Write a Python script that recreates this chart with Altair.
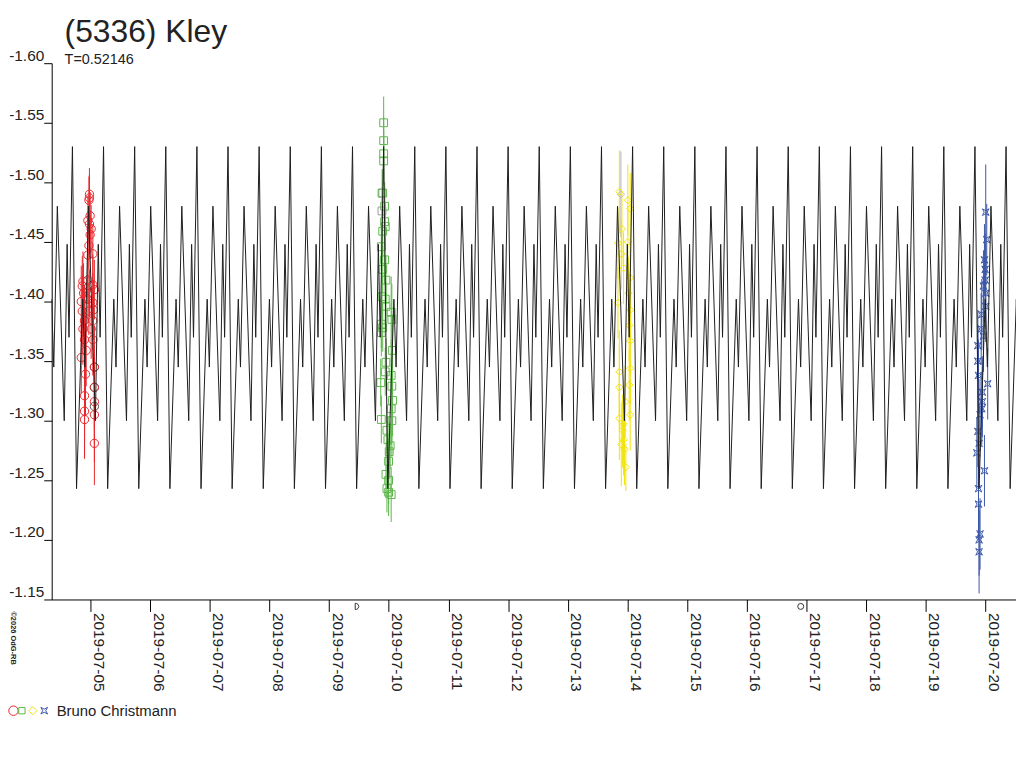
import altair as alt
import pandas as pd

TITLE = "(5336) Kley"
SUBTITLE = "T=0.52146"
OBSERVER = "Bruno Christmann"
COPYRIGHT = "©2026 OdG-RB"

# model light curve: one cycle, repeated with the period
PERIOD_D = 0.52146
EPOCH_D = -0.302          # a main maximum, days from 2019-07-05 00:00
cycle_phase = [0.0, 0.132, 0.330, 0.400, 0.515, 0.737, 0.830, 0.890]
cycle_mag = [-1.530, -1.243, -1.402, -1.345, -1.480, -1.300, -1.448, -1.370]

# observations: time in days from 2019-07-05 00:00, magnitude, error
red_t = [-0.017, -0.017, -0.026, -0.005, -0.043, -0.017, 0.012, -0.005, -0.026, -0.043,
         0.040, -0.126, -0.137, -0.043, 0.040, -0.116, -0.017, 0.066, -0.154, -0.043,
         0.040, -0.137, -0.026, 0.050, -0.099, 0.040, -0.126, 0.012, -0.099, 0.040,
         -0.154, -0.071, -0.083, 0.066, 0.066, -0.099, 0.066, -0.099, 0.066, -0.099, 0.066]
red_mag = [-1.490, -1.487, -1.485, -1.472, -1.468, -1.465, -1.461, -1.456, -1.447, -1.439,
           -1.440, -1.417, -1.413, -1.418, -1.414, -1.407, -1.407, -1.410, -1.400, -1.402,
           -1.399, -1.392, -1.392, -1.393, -1.384, -1.384, -1.377, -1.377, -1.368, -1.368,
           -1.353, -1.359, -1.339, -1.345, -1.328, -1.321, -1.316, -1.308, -1.305, -1.301, -1.281]
red_err = [0.022, 0.02, 0.02, 0.02, 0.02, 0.025, 0.02, 0.02, 0.02, 0.02,
           0.025, 0.025, 0.025, 0.02, 0.025, 0.025, 0.02, 0.025, 0.03, 0.02,
           0.025, 0.03, 0.02, 0.025, 0.03, 0.025, 0.03, 0.025, 0.03, 0.03,
           0.03, 0.03, 0.035, 0.035, 0.035, 0.04, 0.035, 0.04, 0.04, 0.03, 0.035]

green_t = [4.913, 4.913, 4.913, 4.913, 4.897, 4.930, 4.930, 4.940, 4.897, 4.874,
           4.930, 4.897, 4.951, 4.885, 4.940, 4.951, 4.874, 4.897, 4.874, 5.039,
           5.050, 5.062, 4.951, 4.940, 4.864, 5.039, 5.050, 5.062, 5.039, 4.874,
           5.050, 4.968, 4.984, 5.022, 5.006, 4.996, 4.951, 4.996, 4.968, 4.996, 5.039]
green_mag = [-1.550, -1.535, -1.524, -1.518, -1.491, -1.480, -1.467, -1.463, -1.459, -1.446,
             -1.435, -1.427, -1.418, -1.404, -1.402, -1.396, -1.381, -1.378, -1.374, -1.391,
             -1.385, -1.359, -1.349, -1.341, -1.332, -1.338, -1.329, -1.317, -1.310, -1.301,
             -1.300, -1.292, -1.284, -1.279, -1.274, -1.266, -1.255, -1.250, -1.243, -1.240, -1.238]
green_err = [0.022, 0.02, 0.02, 0.02, 0.02, 0.02, 0.02, 0.02, 0.02, 0.02,
             0.02, 0.02, 0.02, 0.02, 0.02, 0.02, 0.02, 0.02, 0.02, 0.03,
             0.03, 0.03, 0.02, 0.02, 0.02, 0.03, 0.03, 0.03, 0.03, 0.02,
             0.03, 0.02, 0.02, 0.02, 0.02, 0.02, 0.02, 0.02, 0.02, 0.02, 0.023]

yellow_t = [8.862, 9.004, 9.044, 8.905, 8.839, 9.004, 8.895, 8.933, 9.044, 9.015,
            8.839, 9.044, 9.027, 9.044, 8.862, 9.044, 8.862, 9.027, 8.961, 8.862,
            9.044, 8.933, 8.916, 8.895, 8.949, 8.971, 8.933]
yellow_mag = [-1.492, -1.485, -1.478, -1.461, -1.449, -1.450, -1.440, -1.428, -1.420, -1.407,
              -1.399, -1.393, -1.380, -1.367, -1.341, -1.344, -1.328, -1.330, -1.316, -1.302,
              -1.305, -1.297, -1.292, -1.280, -1.276, -1.261, -1.284]
yellow_err = [0.035, 0.03, 0.03, 0.03, 0.03, 0.03, 0.03, 0.03, 0.03, 0.03,
              0.03, 0.03, 0.03, 0.03, 0.035, 0.03, 0.035, 0.03, 0.03, 0.035,
              0.03, 0.03, 0.03, 0.035, 0.03, 0.02, 0.03]

blue_t = [15.001, 15.018, 14.991, 14.991, 15.001, 14.935, 14.869, 14.869, 14.880, 15.034,
          14.944, 14.906, 14.869, 14.890, 14.852, 14.980, 14.880, 14.880, 14.906, 14.890,
          14.890, 14.980, 14.963, 15.001, 14.925, 14.963, 14.944, 14.935]
blue_mag = [-1.475, -1.452, -1.427, -1.418, -1.407, -1.389, -1.363, -1.350, -1.338, -1.331,
            -1.324, -1.305, -1.291, -1.281, -1.273, -1.258, -1.243, -1.230, -1.205, -1.200,
            -1.190, -1.435, -1.413, -1.396, -1.377, -1.371, -1.316, -1.310]
blue_err = [0.04, 0.03, 0.03, 0.03, 0.03, 0.03, 0.03, 0.03, 0.03, 0.03,
            0.03, 0.03, 0.03, 0.03, 0.03, 0.03, 0.03, 0.03, 0.03, 0.03,
            0.035, 0.03, 0.03, 0.03, 0.03, 0.03, 0.03, 0.03]

# points drawn in grey (not used in the fit)
faint_group = ["red", "red", "red", "green", "green", "yellow"]
faint_t = [0.066, 0.066, 0.066, 4.885, 4.885, 8.888]
faint_mag = [-1.345, -1.328, -1.312, -1.491, -1.476, -1.490]
faint_err = [0.0, 0.0, 0.0, 0.02, 0.02, 0.036]

# moon phases on the time axis
first_quarter_time = ["2019-07-09T10:55:00"]
full_moon_time = ["2019-07-16T21:38:00"]

# ---------------------------------------------------------------- build tables
BASE = pd.Timestamp("2019-07-05")


def to_time(days):
    return BASE + pd.to_timedelta(pd.Series(days, dtype=float), unit="D")


curve_t, curve_m = [], []
for k in range(-1, 31):
    for ph, m in zip(cycle_phase, cycle_mag):
        curve_t.append(EPOCH_D + (k + ph) * PERIOD_D)
        curve_m.append(m)
curve = pd.DataFrame({"time": to_time(curve_t), "mag": curve_m})

frames = []
for name, t, m, e in [("red", red_t, red_mag, red_err),
                      ("green", green_t, green_mag, green_err),
                      ("yellow", yellow_t, yellow_mag, yellow_err),
                      ("blue", blue_t, blue_mag, blue_err)]:
    frames.append(pd.DataFrame({"group": name, "time": to_time(t), "mag": m, "err": e}))
obs = pd.concat(frames, ignore_index=True)
obs["lo"] = obs["mag"] - obs["err"]
obs["hi"] = obs["mag"] + obs["err"]

faint = pd.DataFrame({"group": faint_group, "time": to_time(faint_t),
                      "mag": faint_mag, "err": faint_err})
faint["lo"] = faint["mag"] - faint["err"]
faint["hi"] = faint["mag"] + faint["err"]

fq = pd.DataFrame({"time": pd.to_datetime(first_quarter_time)})
fm = pd.DataFrame({"time": pd.to_datetime(full_moon_time)})

# ---------------------------------------------------------------- styling
FONT = "Liberation Sans"
W, H = 971, 540
groups = ["red", "green", "yellow", "blue"]
colors = ["#e8282c", "#5db64a", "#f2e40c", "#3b57a7"]
STAR = "M-1,-1L0,-0.45L1,-1L0.45,0L1,1L0,0.45L-1,1L-0.45,0Z"
HALF = "M-0.35,-1L0.15,-0.92L0.55,-0.65L0.8,0L0.55,0.65L0.15,0.92L-0.35,1Z"
shapes = ["circle", "square", "diamond", STAR]
sizes = [70, 45, 55, 50]
faint_colors = ["#555555", "#9a9a9a", "#bdbdbd", "#9a9a9a"]

xscale = alt.Scale(domain=[alt.DateTime(year=2019, month=7, date=4, hours=8, minutes=25),
                           alt.DateTime(year=2019, month=7, date=20, hours=12, minutes=12)])
xaxis = alt.Axis(values=[alt.DateTime(year=2019, month=7, date=d) for d in range(5, 21)],
                 format="%Y-%m-%d", labelAngle=90, labelAlign="left", labelBaseline="bottom",
                 labelFont=FONT, labelFontSize=15.5, labelColor="#222222", labelPadding=1,
                 tickSize=12, tickColor="#000000", domainColor="#000000", grid=False,
                 title=None, labelOverlap=False, labelFlush=False)
yscale = alt.Scale(domain=[-1.60, -1.15], reverse=True, nice=False, zero=False)
yaxis = alt.Axis(values=[-1.60, -1.55, -1.50, -1.45, -1.40, -1.35, -1.30, -1.25, -1.20, -1.15],
                 labelExpr="'-' + format(abs(datum.value), '.2f')",
                 labelAlign="right", labelBaseline="bottom", labelPadding=0,
                 labelFont=FONT, labelFontSize=15.5, labelColor="#222222",
                 tickSize=8, tickColor="#000000", domainColor="#000000", grid=False,
                 title=None, labelFlush=False, labelOverlap=False)

X = alt.X("time:T", scale=xscale, axis=xaxis)
shape = alt.Shape("group:N", scale=alt.Scale(domain=groups, range=shapes), legend=None)
size = alt.Size("group:N", scale=alt.Scale(domain=groups, range=sizes), legend=None)
stroke = alt.Stroke("group:N", scale=alt.Scale(domain=groups, range=colors), legend=None)

faint_err_layer = alt.Chart(faint).mark_rule(strokeWidth=1, color="#b0b0b0").encode(
    x=X, y=alt.Y("lo:Q", scale=yscale, axis=yaxis), y2="hi:Q")
faint_pts = alt.Chart(faint).mark_point(filled=False, strokeWidth=1, opacity=1).encode(
    x=X, y=alt.Y("mag:Q", scale=yscale, axis=yaxis), shape=shape, size=size,
    color=alt.Color("group:N", scale=alt.Scale(domain=groups, range=faint_colors), legend=None))

err_layer = alt.Chart(obs).mark_rule(strokeWidth=1).encode(
    x=X, y=alt.Y("lo:Q", scale=yscale, axis=yaxis), y2="hi:Q", stroke=stroke)
pts_layer = alt.Chart(obs).mark_point(filled=False, strokeWidth=1, opacity=1).encode(
    x=X, y=alt.Y("mag:Q", scale=yscale, axis=yaxis), shape=shape, size=size, stroke=stroke)

curve_layer = alt.Chart(curve).mark_line(color="#1e1e1e", strokeWidth=1, clip=True,
                                         interpolate="linear").encode(
    x=X, y=alt.Y("mag:Q", scale=yscale, axis=yaxis), order="time:T")

fq_layer = alt.Chart(fq).mark_point(filled=False, strokeWidth=1, color="#333333",
                                    shape=HALF, size=40, opacity=1).encode(
    x=X, y=alt.value(H + 7))
fm_layer = alt.Chart(fm).mark_point(filled=False, strokeWidth=1, color="#333333",
                                    shape="circle", size=36, opacity=1).encode(
    x=X, y=alt.value(H + 7))

title_layer = alt.Chart(pd.DataFrame({"t": [TITLE]})).mark_text(
    font=FONT, fontSize=32, color="#222222", align="left", baseline="alphabetic").encode(
    x=alt.value(13), y=alt.value(-21), text="t:N")
sub_layer = alt.Chart(pd.DataFrame({"t": [SUBTITLE]})).mark_text(
    font=FONT, fontSize=14.5, color="#222222", align="left", baseline="alphabetic").encode(
    x=alt.value(13), y=alt.value(1), text="t:N")
copy_layer = alt.Chart(pd.DataFrame({"t": [COPYRIGHT]})).mark_text(
    font=FONT, fontSize=7.5, fontWeight="bold", color="#222222", align="left",
    baseline="bottom", angle=90).encode(
    x=alt.value(-43), y=alt.value(H + 12), text="t:N")

legend_layers = []
legend_x = [-38.5, -30, -19, -7.5]
for g, c, s, sz, lx in zip(groups, colors, shapes, [90, 40, 70, 45], legend_x):
    legend_layers.append(
        alt.Chart(pd.DataFrame({"g": [g]})).mark_point(
            filled=False, strokeWidth=1, color=c, shape=s, size=sz, opacity=1).encode(
            x=alt.value(lx), y=alt.value(H + 112)))
obs_layer = alt.Chart(pd.DataFrame({"t": [OBSERVER]})).mark_text(
    font=FONT, fontSize=15, color="#222222", align="left", baseline="alphabetic").encode(
    x=alt.value(5), y=alt.value(H + 117), text="t:N")

chart = alt.layer(
    faint_err_layer, err_layer, faint_pts, pts_layer, curve_layer, fq_layer, fm_layer,
    title_layer, sub_layer, copy_layer, *legend_layers, obs_layer
).properties(
    width=W, height=H,
    autosize=alt.AutoSizeParams(type="none"),
    padding={"left": 44, "top": 53, "right": 0, "bottom": 150},
).configure_view(stroke=None)

chart.save("out.html", embed_options={"renderer": "svg", "actions": False})
